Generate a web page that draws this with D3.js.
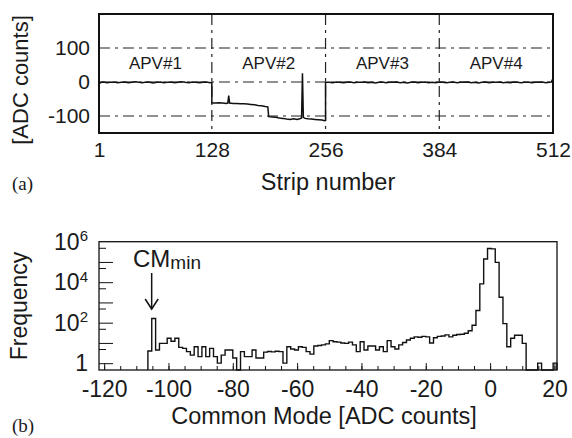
<!DOCTYPE html>
<meta charset="utf-8">
<script src="https://cdn.jsdelivr.net/npm/d3@7"></script>
<style>
  body { margin: 0; background: #fff; }
  svg text { fill: #1a1a1a; }
</style>
<div id="chart"></div>
<script>

// ---------- (a) raw signal per strip ----------
var stripTicks = [1, 128, 256, 384, 512];
var adcTicks = [-100, 0, 100];
var apvEdges = [128, 256, 384];
var apvNames = ["APV#1", "APV#2", "APV#3", "APV#4"];
var apvMid = [64.5, 192, 320, 448];

// [strip, ADC counts]
var apv1 = [[1,-6],[3,-1],[6,0],[10,-2],[14,-1],[18,0],[22,-2],[26,-1],[30,0],[34,-2],[38,-1],[42,1],
  [46,-1],[50,-2],[54,0],[58,-1],[62,-3],[66,-1],[70,0],[74,-2],[78,-1],[82,0],[86,-2],[90,-1],
  [94,1],[98,-1],[102,-2],[106,0],[110,-1],[114,-2],[118,-1],[122,0],[126,-2],[128,-1]];
var apv2 = [[128,-62],[132,-62],[136,-61],[140,-62],[144,-63],[146,-62],[147,-40],[148,-62],[152,-63],
  [156,-63],[160,-64],[164,-64],[168,-65],[172,-66],[176,-67],[180,-69],[184,-70],[188,-72],[191,-73],
  [192,-102],[196,-103],[200,-104],[204,-106],[208,-107],[212,-109],[216,-110],[220,-108],[224,-110],
  [227,-108],[229,-106],[230,26],[231,-104],[233,-107],[236,-108],[240,-109],[244,-110],[248,-111],
  [252,-112],[255,-114],[256,-113]];
var apv34 = [[256,-1],[260,-1],[264,-2],[268,0],[272,-1],[276,-2],[280,-1],[284,0],[288,-2],[292,-1],
  [296,-1],[300,0],[304,-2],[308,-1],[312,-3],[316,-1],[320,0],[324,-2],[328,-1],[332,-1],[336,0],
  [340,-2],[344,-1],[348,-3],[352,-1],[356,0],[360,-2],[364,-1],[368,0],[372,-2],[376,-1],[380,-2],
  [384,0],[388,-1],[392,-2],[396,-1],[400,0],[404,-2],[408,-1],[412,-1],[416,0],[420,-2],[424,-1],
  [428,-3],[432,-1],[436,0],[440,-2],[444,-1],[448,-1],[452,0],[456,-2],[460,-1],[464,-2],[468,0],
  [472,-1],[476,-2],[480,-1],[484,0],[488,-2],[492,-1],[496,-1],[500,0],[504,-2],[508,-1],[510,0],
  [511,5],[512,-4]];

// ---------- (b) common mode histogram ----------
var cmBinStart = -106.4;
var cmBinWidth = 1.2;
var cmCounts = [4,160,4.5,9.5,9.5,17,12,17,6,5.4,3.7,2.5,6.5,2.1,6.5,2.1,5.4,2.1,1,2.5,
  4.5,4.5,1.8,0,3.7,2.1,2.1,4.5,1.8,1.8,3.5,3.8,3.6,3.9,3.7,1,6.5,5,4.5,6.5,
  6,3.7,2.8,7,7.5,8,9,13,11.5,11,10,9.5,11,8,3.7,11.5,4.5,7,7,4.5,
  6.5,3.7,13,6.5,5,8,10.5,14,17,20,19,21,20,10,18,21,22,25,20,24,
  26,27,30,40,75,400,8300,140000,460000,440000,95000,1800,90,6.5,17,24,24,9.5,0,0,
  0,1,0,0,0,1];
var cmTicks = [-120, -100, -80, -60, -40, -20, 0, 20];
var cmMinor = d3.range(-120, 21, 5);
var freqLabels = [1, 1e2, 1e4, 1e6];
var freqMajor = [1, 1e1, 1e2, 1e3, 1e4, 1e5];
var freqMinor = [5, 50, 500, 5e3, 5e4, 5e5];

var font = "'Liberation Sans', Arial, Helvetica, sans-serif";
var svg = d3.select("#chart").append("svg")
    .attr("width", 572)
    .attr("height", 438);

// ===== panel (a) =====
var xa = d3.scaleLinear().domain([1, 512]).range([99, 553]);
var ya = d3.scaleLinear().domain([-150, 200]).range([133, 14]);
var pa = svg.append("g");

pa.selectAll(".hgrid").data(adcTicks).enter().append("line")
    .attr("x1", xa(1)).attr("x2", xa(512))
    .attr("y1", function(d) { return ya(d); })
    .attr("y2", function(d) { return ya(d); })
    .attr("stroke", "#222").attr("stroke-width", 1.2)
    .attr("stroke-dasharray", "11,5,3,5");

pa.selectAll(".vgrid").data(apvEdges).enter().append("line")
    .attr("x1", function(d) { return xa(d); })
    .attr("x2", function(d) { return xa(d); })
    .attr("y1", ya(200)).attr("y2", ya(-150))
    .attr("stroke", "#222").attr("stroke-width", 1.2)
    .attr("stroke-dasharray", "11,5,3,5");

var trace = d3.line()
    .x(function(d) { return xa(d[0]); })
    .y(function(d) { return ya(d[1]); });

pa.append("path")
    .attr("d", trace(apv1.concat(apv2, apv34)))
    .attr("fill", "none").attr("stroke", "#111").attr("stroke-width", 1.5);

pa.selectAll(".apv").data(apvNames).enter().append("text")
    .attr("x", function(d, i) { return xa(apvMid[i]); })
    .attr("y", 69)
    .attr("text-anchor", "middle")
    .attr("font-family", font).attr("font-size", 17)
    .text(function(d) { return d; });

pa.append("rect")
    .attr("x", 99).attr("y", 14).attr("width", 454).attr("height", 119)
    .attr("fill", "none").attr("stroke", "#111").attr("stroke-width", 2);

pa.append("g")
    .attr("transform", "translate(0,133)")
    .call(d3.axisBottom(xa).tickValues(stripTicks).tickSize(0).tickPadding(9)
      .tickFormat(function(d) { return String(d); }))
    .call(function(g) { g.select(".domain").remove(); })
    .attr("font-family", font).attr("font-size", 21).attr("color", "#1a1a1a");

pa.append("g")
    .attr("transform", "translate(99,0)")
    .call(d3.axisLeft(ya).tickValues(adcTicks).tickSize(0).tickPadding(9)
      .tickFormat(function(d) { return String(d); }))
    .call(function(g) { g.select(".domain").remove(); })
    .attr("font-family", font).attr("font-size", 21).attr("color", "#1a1a1a");

pa.append("text")
    .attr("x", 328).attr("y", 190)
    .attr("text-anchor", "middle")
    .attr("font-family", font).attr("font-size", 23.5)
    .text("Strip number");

pa.append("text")
    .attr("transform", "translate(28,80) rotate(-90)")
    .attr("text-anchor", "middle")
    .attr("font-family", font).attr("font-size", 22)
    .text("[ADC counts]");

svg.append("text")
    .attr("x", 12).attr("y", 190)
    .attr("font-family", "'Liberation Serif', 'Times New Roman', serif").attr("font-size", 19)
    .text("(a)");

// ===== panel (b) =====
var xb = d3.scaleLinear().domain([-121.6, 20.8]).range([99, 557]);
var yb = d3.scaleLog().domain([0.46, 1e6]).range([370, 241.7]);
var pb = svg.append("g");

var base = yb.range()[0];
var pts = [[xb(cmBinStart), base]];
cmCounts.forEach(function(c, i) {
  var lo = cmBinStart + i * cmBinWidth, hi = lo + cmBinWidth;
  var yy = c > 0 ? yb(c) : base;
  pts.push([xb(lo), yy], [xb(hi), yy]);
});
pts.push([xb(cmBinStart + cmCounts.length * cmBinWidth), base]);

pb.append("path")
    .attr("d", d3.line()(pts))
    .attr("fill", "none").attr("stroke", "#111").attr("stroke-width", 1.4);

pb.append("rect")
    .attr("x", 99).attr("y", 241.7).attr("width", 458).attr("height", 128.3)
    .attr("fill", "none").attr("stroke", "#111").attr("stroke-width", 1.3);

// x ticks (inward)
pb.append("g")
    .attr("transform", "translate(0,370)")
    .call(d3.axisBottom(xb).tickValues(cmMinor).tickSize(-4).tickFormat(""))
    .call(function(g) { g.select(".domain").remove(); })
    .attr("color", "#111");

pb.append("g")
    .attr("transform", "translate(0,370)")
    .call(d3.axisBottom(xb).tickValues(cmTicks).tickSize(-7).tickPadding(11)
      .tickFormat(function(d) { return String(d); }))
    .call(function(g) { g.select(".domain").remove(); })
    .attr("font-family", font).attr("font-size", 23).attr("color", "#1a1a1a");

// y ticks (inward)
pb.append("g")
    .attr("transform", "translate(99,0)")
    .call(d3.axisLeft(yb).tickValues(freqMinor).tickSize(-7).tickFormat(""))
    .call(function(g) { g.select(".domain").remove(); })
    .attr("color", "#111");

pb.append("g")
    .attr("transform", "translate(99,0)")
    .call(d3.axisLeft(yb).tickValues(freqMajor).tickSize(-14).tickFormat(""))
    .call(function(g) { g.select(".domain").remove(); })
    .attr("color", "#111");

var yl = pb.append("g")
    .attr("transform", "translate(99,0)")
    .call(d3.axisLeft(yb).tickValues(freqLabels).tickSize(0).tickPadding(11)
      .tickFormat(""))
    .call(function(g) { g.select(".domain").remove(); })
    .attr("font-family", font).attr("font-size", 23).attr("color", "#1a1a1a");

yl.selectAll(".tick text").each(function(d) {
  var t = d3.select(this);
  if (d === 1) { t.text("1"); return; }
  t.append("tspan").text("10");
  t.append("tspan").attr("dy", "-0.55em").attr("font-size", 15)
    .text(String(Math.round(Math.log10(d))));
});

pb.append("text")
    .attr("x", 324).attr("y", 424)
    .attr("text-anchor", "middle")
    .attr("font-family", font).attr("font-size", 23.5)
    .text("Common Mode [ADC counts]");

pb.append("text")
    .attr("transform", "translate(27,306) rotate(-90)")
    .attr("text-anchor", "middle")
    .attr("font-family", font).attr("font-size", 23)
    .text("Frequency");

// CMmin annotation
var cm = pb.append("text")
    .attr("x", 133).attr("y", 267)
    .attr("font-family", font).attr("font-size", 24);
cm.append("tspan").text("CM");
cm.append("tspan").attr("dy", 2).attr("font-size", 19).text("min");

var ax = xb(cmBinStart + 1.5 * cmBinWidth) - 2;
pb.append("line")
    .attr("x1", ax).attr("x2", ax).attr("y1", 273).attr("y2", 309)
    .attr("stroke", "#111").attr("stroke-width", 1.5);
pb.append("path")
    .attr("d", "M" + (ax - 6.5) + ",299L" + ax + ",309L" + (ax + 6.5) + ",299")
    .attr("fill", "none").attr("stroke", "#111").attr("stroke-width", 1.5);

svg.append("text")
    .attr("x", 12).attr("y", 432)
    .attr("font-family", "'Liberation Serif', 'Times New Roman', serif").attr("font-size", 19)
    .text("(b)");

</script>
